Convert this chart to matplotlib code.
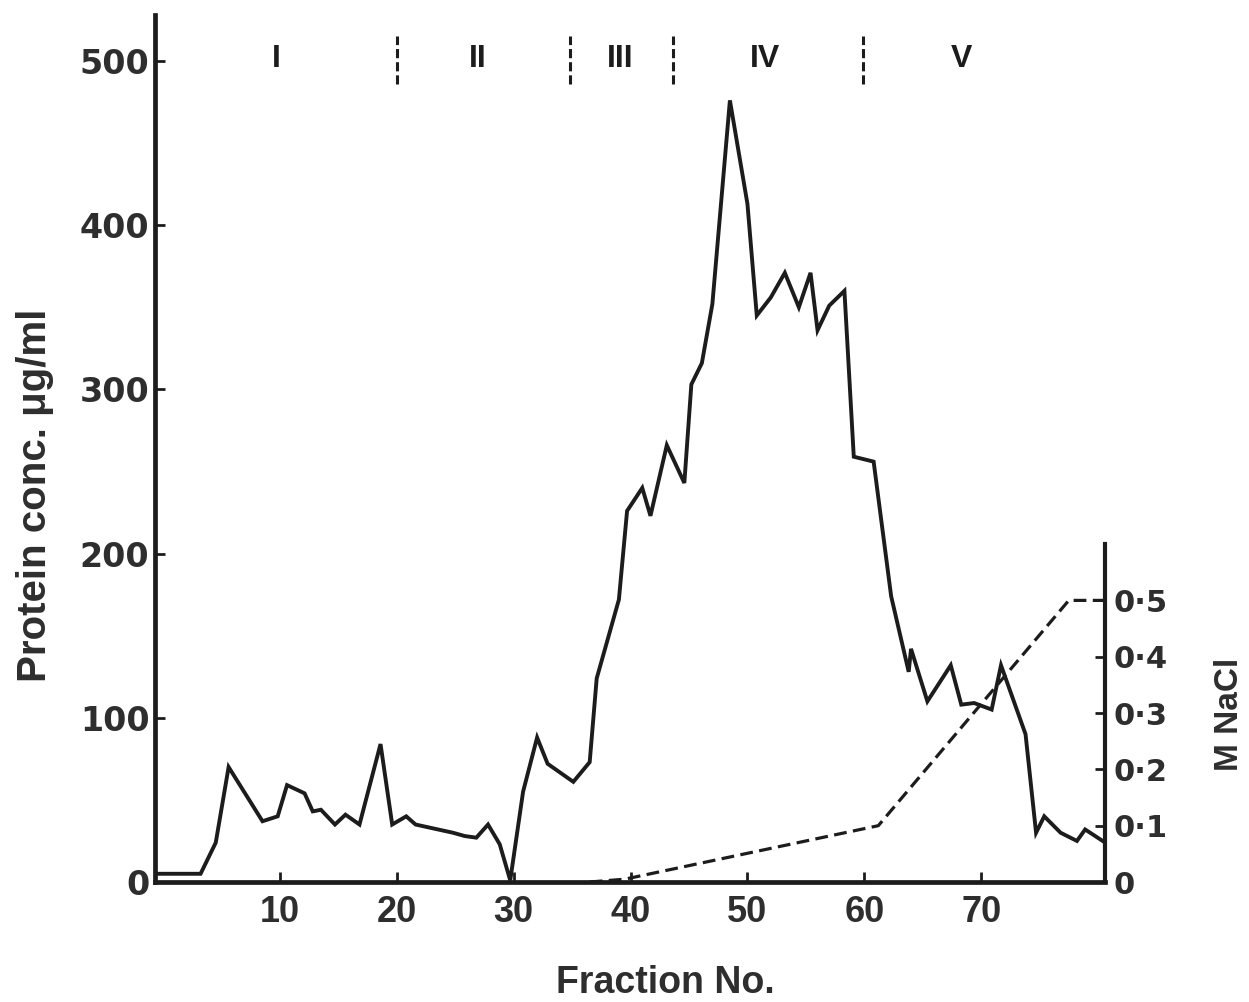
"""Protein elution profile with NaCl gradient (scanned-style figure)."""

import matplotlib

matplotlib.use("Agg")
import matplotlib.pyplot as plt
from matplotlib.ticker import FuncFormatter

# Protein concentration (ug/ml) vs fraction number
fraction = [
    -0.5, 3.2, 4.5, 5.6, 8.5, 9.8, 10.6, 12.1, 12.8, 13.5, 14.7, 15.6, 16.8,
    18.6, 19.6, 20.8, 21.6, 24.8, 25.8, 26.8, 27.8, 28.8, 29.7, 30.8, 32.0,
    32.9, 35.1, 36.5, 37.1, 39.0, 39.7, 41.0, 41.7, 43.1, 44.6, 45.2, 46.1,
    47.0, 48.5, 50.0, 50.8, 52.0, 53.2, 54.4, 55.4, 56.0, 57.0, 58.3, 59.1,
    60.8, 62.3, 63.8, 64.0, 65.4, 67.4, 68.3, 69.4, 70.9, 71.7, 73.8, 74.7,
    75.4, 76.8, 78.2, 78.9, 80.4,
]
protein = [
    5, 5, 24, 70, 37, 40, 59, 54, 43, 44, 35, 41, 35,
    84, 35, 40, 35, 30, 28, 27, 35, 23, 1, 55, 88,
    72, 61, 73, 124, 172, 226, 240, 223, 266, 243, 303, 316,
    352, 476, 413, 345, 356, 371, 350, 371, 336, 351, 360, 259,
    256, 174, 128, 142, 110, 132, 108, 109, 105, 132, 90, 30,
    40, 30, 25, 32, 25,
]

# NaCl gradient (M)
nacl_fraction = [36.5, 39.5, 61.2, 77.5, 80.6]
nacl_molar = [0.0, 0.005, 0.1, 0.5, 0.5]

# Peak regions along the top
region_names = ["I", "II", "III", "IV", "V"]
region_centers = [9.7, 26.9, 39.1, 51.5, 68.3]
region_bounds = [20.0, 34.8, 43.6, 59.9]

x_ticks = [10, 20, 30, 40, 50, 60, 70]
y_ticks = [0, 100, 200, 300, 400, 500]
nacl_ticks = [0, 0.1, 0.2, 0.3, 0.4, 0.5]

INK = "#1c1c1c"
TEXT = "#2e2e2e"
FONT = "Liberation Sans"
WIDE = "DejaVu Sans"

plt.rcParams["font.family"] = [FONT, "DejaVu Sans"]
plt.rcParams["font.weight"] = "bold"

fig = plt.figure(figsize=(12.49, 10.02), dpi=100)
ax = fig.add_axes([155 / 1249, 1 - 882 / 1002, 950 / 1249, 867 / 1002])

ax.plot(fraction, protein, color=INK, linewidth=2.8, solid_joinstyle="miter")

ax.set_xlim(-0.7, 80.6)
ax.set_ylim(0, 528)
ax.set_xticks(x_ticks)
ax.set_yticks(y_ticks)

for side in ["top", "right"]:
    ax.spines[side].set_visible(False)
ax.spines["left"].set_linewidth(3.4)
ax.spines["bottom"].set_linewidth(3.4)
ax.spines["left"].set_color(INK)
ax.spines["bottom"].set_color(INK)

ax.tick_params(axis="both", direction="in", length=7, width=2, color=INK,
               labelcolor=TEXT)
ax.tick_params(axis="y", pad=4, labelsize=24)
ax.tick_params(axis="x", pad=9, labelsize=26)
for lab in ax.get_xticklabels():
    lab.set_fontweight("bold")
for lab in ax.get_yticklabels():
    lab.set_fontweight("bold")
    lab.set_family(WIDE)

# region separators and names
for b in region_bounds:
    ax.plot([b, b], [486, 515], color=INK, linewidth=2.2, linestyle=(0, (3, 1.3)))
for name, c in zip(region_names, region_centers):
    ax.text(c, 501, name, ha="center", va="center", fontsize=23,
            fontweight="bold", color=INK)

# NaCl axis on the right
ax2 = ax.twinx()
ax2.plot(nacl_fraction, nacl_molar, color=INK, linewidth=2.3,
         linestyle=(0, (4, 2)))
ax2.set_ylim(0, 528 / 171.5 * 0.5)
ax2.set_yticks(nacl_ticks)
ax2.yaxis.set_major_formatter(
    FuncFormatter(lambda v, _: "0" if v == 0 else f"{v:.1f}".replace(".", "\u00b7"))
)
for side in ["top", "left", "bottom"]:
    ax2.spines[side].set_visible(False)
ax2.spines["right"].set_bounds(0, 0.6)
ax2.spines["right"].set_linewidth(3.0)
ax2.spines["right"].set_color(INK)
ax2.tick_params(axis="y", direction="in", length=7, width=2, color=INK,
                labelsize=22, labelcolor=TEXT, pad=6)
for lab in ax2.get_yticklabels():
    lab.set_fontweight("bold")
    lab.set_family(WIDE)

fig.text(35 / 1249, 1 - 495 / 1002, "Protein conc. \u03bcg/ml", rotation=90,
         ha="center", va="center", fontsize=29, fontweight="bold", color=TEXT)
fig.text(665 / 1249, 1 - 983 / 1002, "Fraction No.", ha="center", va="center",
         fontsize=27, fontweight="bold", color=TEXT)
fig.text(1230 / 1249, 1 - 714 / 1002, "M NaCl", rotation=90, ha="center",
         va="center", fontsize=24, fontweight="bold", color=TEXT)

fig.savefig("out.png", dpi=100, facecolor="white")
plt.close(fig)
